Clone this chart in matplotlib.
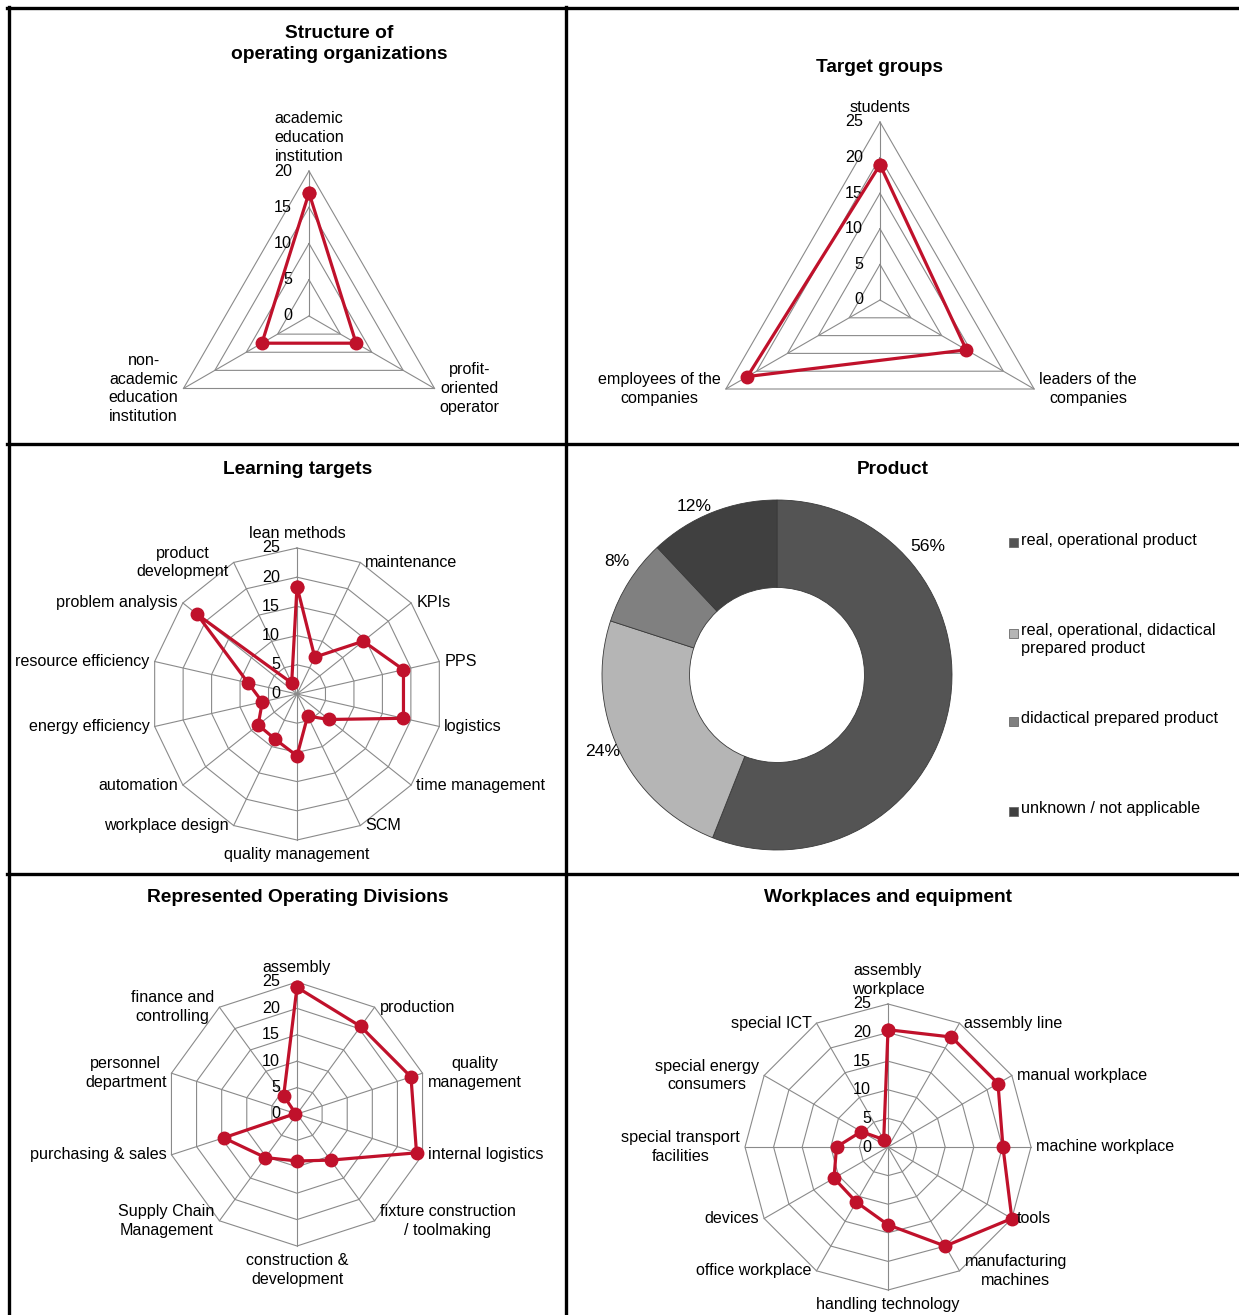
import numpy as np
import matplotlib
matplotlib.use("Agg")
import matplotlib.pyplot as plt
from matplotlib.lines import Line2D
from matplotlib.patches import Rectangle

plt.rcParams['font.family'] = ['Liberation Sans', 'DejaVu Sans']

W, H = 1239, 1315
RED = '#C0112B'
GRID = '#8a8a8a'
FS = 11.6
LS = 1.32

# ---- data ----
org_cats = ["academic\neducation\ninstitution", "profit-\noriented\noperator",
            "non-\nacademic\neducation\ninstitution"]
org_vals = [17, 7.5, 7.5]

target_cats = ["students", "leaders of the\ncompanies", "employees of the\ncompanies"]
target_vals = [19, 14, 21.5]

learn_cats = ["lean methods", "maintenance", "KPIs", "PPS", "logistics",
              "time management", "SCM", "quality management", "workplace design",
              "automation", "energy efficiency", "resource efficiency",
              "problem analysis", "product\ndevelopment"]
learn_vals = [18.4, 7, 14.5, 18.7, 18.7, 7, 4.2, 10.6, 8.6, 8.5, 6.1, 8.6, 21.9, 2.1]

product_labels = ["real, operational product",
                  "real, operational, didactical\nprepared product",
                  "didactical prepared product", "unknown / not applicable"]
product_share = [56, 24, 8, 12]
product_colors = ['#545454', '#b5b5b5', '#808080', '#404040']

div_cats = ["assembly", "production", "quality\nmanagement", "internal logistics",
            "fixture construction\n/ toolmaking", "construction &\ndevelopment",
            "Supply Chain\nManagement", "purchasing & sales", "personnel\ndepartment",
            "finance and\ncontrolling"]
div_vals = [24, 20.5, 22.7, 23.8, 10.8, 8.9, 10.2, 14.6, 0.3, 4.3]

equip_cats = ["assembly\nworkplace", "assembly line", "manual workplace",
              "machine workplace", "tools", "manufacturing\nmachines",
              "handling technology", "office workplace", "devices",
              "special transport\nfacilities", "special energy\nconsumers", "special ICT"]
equip_vals = [20.5, 22.2, 22.2, 20.1, 25, 20, 13.6, 11.1, 10.9, 9, 5.4, 1.5]

fig = plt.figure(figsize=(W / 100, H / 100), dpi=100)


def fx(x):
    return x / W


def fy(y):
    return 1 - y / H


def radar(cx, cy, r_px, rmax, step, cats, vals):
    ax = fig.add_axes([fx(cx - r_px), fy(cy + r_px), 2 * r_px / W, 2 * r_px / H])
    ax.set_xlim(-rmax, rmax)
    ax.set_ylim(-rmax, rmax)
    ax.axis('off')
    n = len(cats)
    th = 2 * np.pi * np.arange(n) / n
    s, c = np.sin(th), np.cos(th)
    unit = rmax / r_px

    # polygon grid and spokes
    for lev in np.arange(step, rmax + step / 2, step):
        ax.plot(np.append(lev * s, lev * s[0]), np.append(lev * c, lev * c[0]),
                color=GRID, lw=0.8, clip_on=False, zorder=1)
    for i in range(n):
        ax.plot([0, rmax * s[i]], [0, rmax * c[i]], color=GRID, lw=0.8,
                clip_on=False, zorder=1)

    # value axis labels
    for lev in np.arange(0, rmax + step / 2, step):
        ax.text(-17 * unit, lev, f"{lev:g}", ha='right', va='center', fontsize=FS,
                zorder=2)

    v = np.asarray(vals, dtype=float)
    ax.plot(np.append(v * s, v[0] * s[0]), np.append(v * c, v[0] * c[0]),
            color=RED, lw=2.3, marker='o', ms=9, clip_on=False, zorder=3)

    # category labels
    kw = dict(fontsize=FS, multialignment='center', linespacing=LS)
    for i, lab in enumerate(cats):
        x, y = rmax * s[i], rmax * c[i]
        if c[i] > 0.95:
            ax.text(x, y + 7 * unit, lab, ha='center', va='bottom', **kw)
        elif c[i] < -0.95:
            ax.text(x, y - 7 * unit, lab, ha='center', va='top', **kw)
        elif s[i] > 0:
            ax.text(x + 5 * unit, y, lab, ha='left', va='center', **kw)
        else:
            ax.text(x - 5 * unit, y, lab, ha='right', va='center', **kw)
    return ax


# ---- radar panels ----
radar(309, 316, 145, 20, 5, org_cats, org_vals)
radar(880, 300, 178, 25, 5, target_cats, target_vals)
radar(297, 694, 146, 25, 5, learn_cats, learn_vals)
radar(297, 1114, 132, 25, 5, div_cats, div_vals)
radar(888, 1147, 143, 25, 5, equip_cats, equip_vals)

# ---- donut ----
R = 175
axd = fig.add_axes([fx(777 - R), fy(675 + R), 2 * R / W, 2 * R / H])
axd.pie(product_share, colors=product_colors, startangle=90, counterclock=False,
        radius=1, wedgeprops=dict(width=0.5, edgecolor='#3a3a3a', linewidth=0.6))
axd.set_xlim(-1, 1)
axd.set_ylim(-1, 1)
axd.axis('off')
pct_pos = [(0.863, 0.737), (-0.994, -0.44), (-0.914, 0.646), (-0.474, 0.96)]
for (px, py), val in zip(pct_pos, product_share):
    axd.text(px, py, f"{val}%", ha='center', va='center', fontsize=12.6,
             family=['Liberation Sans Narrow', 'Liberation Sans'])

legend_y = [543, 633, 721, 811]
for lab, col, ly in zip(product_labels, product_colors, legend_y):
    fig.add_artist(Rectangle((fx(1009), fy(ly + 4.5)), 9 / W, 9 / H,
                             transform=fig.transFigure, facecolor=col,
                             edgecolor='#6a6a6a', linewidth=0.6))
    fig.text(fx(1021), fy(ly - 10), lab, ha='left', va='top', fontsize=11.7,
             linespacing=1.25)

# ---- titles ----
titles = [("Structure of\noperating organizations", 339, 44),
          ("Target groups", 879, 68),
          ("Learning targets", 298, 469),
          ("Product", 893, 469),
          ("Represented Operating Divisions", 298, 898),
          ("Workplaces and equipment", 888, 898)]
for t, x, y in titles:
    fig.text(fx(x), fy(y), t, ha='center', va='center', fontsize=13.8,
             fontweight='bold', linespacing=1.25)

# ---- table frame ----
frame = [((7, 8), (W, 8)), ((8.5, 7), (8.5, H)), ((565.5, 7), (565.5, H)),
         ((7, 444.5), (W, 444.5)), ((7, 873.5), (W, 873.5))]
for (x0, y0), (x1, y1) in frame:
    fig.add_artist(Line2D([fx(x0), fx(x1)], [fy(y0), fy(y1)],
                          transform=fig.transFigure, color='black', lw=2.4))

fig.savefig("out.png", dpi=100, facecolor='white')
